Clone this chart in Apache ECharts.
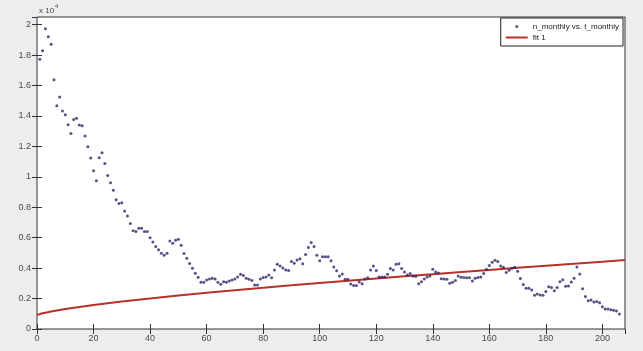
<!DOCTYPE html>
<html><head><meta charset="utf-8">
<script src="https://cdn.jsdelivr.net/npm/echarts@6/dist/echarts.min.js"></script>
<style>html,body{margin:0;padding:0;background:#ededed;} #c{width:643px;height:351px;}</style>
</head><body><div id="c"></div>
<script>
// n_monthly values (units of 10^4), months 1..206
const nMonthly = [
  1.772, 1.829, 1.972, 1.921, 1.871, 1.638, 1.467, 1.524, 1.432, 1.408,
  1.342, 1.285, 1.377, 1.384, 1.340, 1.336, 1.268, 1.197, 1.123, 1.039,
  0.974, 1.125, 1.158, 1.088, 1.009, 0.961, 0.912, 0.849, 0.825, 0.829,
  0.776, 0.743, 0.693, 0.645, 0.640, 0.662, 0.662, 0.640, 0.640, 0.599,
  0.572, 0.542, 0.520, 0.498, 0.485, 0.498, 0.579, 0.564, 0.583, 0.590,
  0.550, 0.496, 0.465, 0.430, 0.399, 0.366, 0.340, 0.307, 0.307, 0.322,
  0.329, 0.333, 0.329, 0.307, 0.294, 0.311, 0.307, 0.316, 0.322, 0.329,
  0.342, 0.360, 0.351, 0.333, 0.327, 0.318, 0.289, 0.289, 0.329, 0.338,
  0.342, 0.355, 0.336, 0.388, 0.425, 0.414, 0.401, 0.388, 0.384, 0.443,
  0.432, 0.454, 0.461, 0.428, 0.489, 0.535, 0.568, 0.542, 0.485, 0.449,
  0.474, 0.474, 0.474, 0.449, 0.408, 0.382, 0.349, 0.362, 0.327, 0.327,
  0.296, 0.285, 0.285, 0.309, 0.298, 0.329, 0.336, 0.388, 0.414, 0.384,
  0.342, 0.342, 0.342, 0.360, 0.397, 0.388, 0.425, 0.428, 0.397, 0.375,
  0.355, 0.364, 0.349, 0.347, 0.297, 0.310, 0.328, 0.341, 0.349, 0.393,
  0.375, 0.368, 0.330, 0.329, 0.327, 0.300, 0.307, 0.318, 0.349, 0.340,
  0.338, 0.336, 0.336, 0.316, 0.333, 0.338, 0.342, 0.364, 0.393, 0.417,
  0.439, 0.452, 0.443, 0.414, 0.406, 0.371, 0.386, 0.399, 0.406, 0.380,
  0.331, 0.292, 0.268, 0.268, 0.257, 0.222, 0.230, 0.224, 0.222, 0.246,
  0.278, 0.272, 0.252, 0.272, 0.311, 0.324, 0.281, 0.283, 0.309, 0.333,
  0.408, 0.362, 0.265, 0.213, 0.186, 0.191, 0.178, 0.180, 0.173, 0.147,
  0.132, 0.132, 0.127, 0.123, 0.118, 0.099
];
const firstMonth = 1;
// fit 1 curve
const fitX = [0, 1, 2, 3, 5, 10, 15, 20, 30, 40, 50, 60, 70, 80, 90, 100, 110, 120, 130, 140, 150, 160, 170, 180, 190, 200, 208];
const fitY = [0.092, 0.098, 0.103, 0.107, 0.115, 0.131, 0.145, 0.157, 0.180, 0.201, 0.220, 0.238, 0.255, 0.271, 0.287, 0.302, 0.317, 0.332, 0.346, 0.360, 0.374, 0.388, 0.402, 0.416, 0.429, 0.442, 0.453];
const xTicks = [0, 20, 40, 60, 80, 100, 120, 140, 160, 180, 200];
const yTicks = [0, 0.2, 0.4, 0.6, 0.8, 1, 1.2, 1.4, 1.6, 1.8, 2];
const seriesNames = ['n_monthly vs. t_monthly', 'fit 1'];

const scatterData = nMonthly.map((v, i) => [firstMonth + i, v]);
const fitData = fitX.map((x, i) => [x, fitY[i]]);

const tickColor = '#333';
const labelColor = '#4a4a4a';
const font = 'Liberation Sans, Arial, sans-serif';

const chart = echarts.init(document.getElementById('c'), null, {renderer: 'canvas'});
const xCommon = {
  type: 'value', min: xTicks[0], max: 208, interval: xTicks[1] - xTicks[0],
  axisLine: {show: false}, splitLine: {show: false},
  axisTick: {inside: true, length: 5, lineStyle: {color: tickColor}}
};
const yCommon = {
  type: 'value', min: yTicks[0], max: 2.05, interval: yTicks[1] - yTicks[0],
  axisLine: {show: false}, splitLine: {show: false},
  axisTick: {inside: true, length: 5, lineStyle: {color: tickColor}}
};
chart.setOption({
  backgroundColor: '#ededed',
  animation: false,
  textStyle: {fontFamily: font},
  title: {
    text: '{a|x 10}{b|4}', left: 34, top: -2,
    textStyle: {fontWeight: 'normal', rich: {
      a: {fontSize: 8, fontWeight: 'normal', color: labelColor, fontFamily: font, verticalAlign: 'bottom', lineHeight: 12},
      b: {fontSize: 6, fontWeight: 'normal', color: labelColor, fontFamily: font, verticalAlign: 'top', lineHeight: 12, padding: [0, 0, 6, 1]}
    }}
  },
  legend: {
    data: [
      {name: seriesNames[0], icon: 'circle'},
      {name: seriesNames[1], icon: 'path://M0,0 L22,0 L22,2 L0,2 Z'}
    ],
    orient: 'vertical', right: 20, top: 18,
    itemWidth: 22, itemHeight: 3, itemGap: 2,
    padding: [4, 4, 4, 5],
    borderColor: '#222', borderWidth: 1, backgroundColor: '#fff',
    textStyle: {fontSize: 8, color: '#222', fontFamily: font, lineHeight: 9}
  },
  grid: {left: 37, top: 17, right: 18, bottom: 22, show: true, backgroundColor: '#fff', borderColor: '#333', borderWidth: 1},
  xAxis: [
    Object.assign({}, xCommon, {position: 'bottom',
      axisLabel: {color: labelColor, fontSize: 9, margin: 5, showMaxLabel: false, fontFamily: font}}),
    Object.assign({}, xCommon, {position: 'top', axisLabel: {show: false}})
  ],
  yAxis: [
    Object.assign({}, yCommon, {position: 'left',
      axisLabel: {color: labelColor, fontSize: 9, margin: 6, showMaxLabel: false, fontFamily: font}}),
    Object.assign({}, yCommon, {position: 'right', axisLabel: {show: false}})
  ],
  series: [
    {
      name: seriesNames[0], type: 'scatter', xAxisIndex: 0, yAxisIndex: 0,
      data: scatterData, symbol: 'circle', symbolSize: 3,
      itemStyle: {color: '#2f2468'}, z: 3
    },
    {
      name: seriesNames[1], type: 'line', xAxisIndex: 0, yAxisIndex: 0,
      data: fitData, smooth: false, symbol: 'none', showSymbol: false,
      lineStyle: {color: '#b8302b', width: 2}, itemStyle: {color: '#b8302b'}, z: 2
    }
  ]
});
</script>
</body></html>
